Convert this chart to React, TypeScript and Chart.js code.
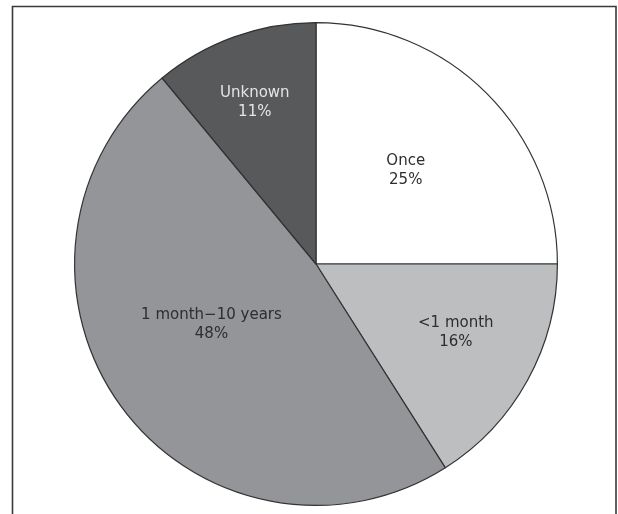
import React, { useEffect, useRef } from "react";
import { Chart, registerables } from "chart.js";

Chart.register(...registerables);

const categories = ["Once", "<1 month", "1 month\u221210 years", "Unknown"];
const percentValues = [25, 16, 48, 11];
const sliceColors = ["#ffffff", "#bcbec0", "#939598", "#58595b"];
const labelColors = ["#2e2e2e", "#2e2e2e", "#2e2e2e", "#e4e4e4"];
const labelRadiusFractions = [0.537, 0.645, 0.5, 0.714];
const labelAngleOffsetsDeg = [-1.2, -2.7, 6, -1];

const framePlugin = {
  id: "frame",
  beforeDraw(chart: any) {
    const ctx = chart.ctx;
    ctx.save();
    ctx.fillStyle = "#ffffff";
    ctx.fillRect(0, 0, chart.width, chart.height);
    ctx.strokeStyle = "#3a3a3a";
    ctx.lineWidth = 1.6;
    ctx.beginPath();
    ctx.moveTo(12.5, chart.height);
    ctx.lineTo(12.5, 6.5);
    ctx.lineTo(616, 6.5);
    ctx.lineTo(616, chart.height);
    ctx.stroke();
    ctx.restore();
  },
};

const labelPlugin = {
  id: "sliceLabels",
  afterDatasetsDraw(chart: any) {
    const ctx = chart.ctx;
    const meta = chart.getDatasetMeta(0);
    const data = chart.data.datasets[0].data;
    ctx.save();
    ctx.font = "15px 'DejaVu Sans', sans-serif";
    ctx.textAlign = "center";
    ctx.textBaseline = "middle";
    meta.data.forEach((arc: any, i: number) => {
      const p = arc.getProps(["x", "y", "startAngle", "endAngle", "outerRadius"], true);
      const mid = (p.startAngle + p.endAngle) / 2 + (labelAngleOffsetsDeg[i] * Math.PI) / 180;
      const r = p.outerRadius * labelRadiusFractions[i];
      const cx = p.x + Math.cos(mid) * r;
      const cy = p.y + Math.sin(mid) * r;
      ctx.fillStyle = labelColors[i];
      ctx.fillText(String(chart.data.labels[i]), cx, cy - 9.5);
      ctx.fillText(data[i] + "%", cx, cy + 9.5);
    });
    ctx.restore();
  },
};

export default function App() {
  const canvasRef = useRef<HTMLCanvasElement | null>(null);

  useEffect(() => {
    if (!canvasRef.current) return;
    const chart = new Chart(canvasRef.current, {
      type: "pie",
      data: {
        labels: categories,
        datasets: [
          {
            data: percentValues,
            backgroundColor: sliceColors,
            borderColor: "#333333",
            borderWidth: 1.2,
          },
        ],
      },
      options: {
        responsive: false,
        animation: false,
        layout: { padding: { top: 22, bottom: 8, left: 74, right: 60 } },
        plugins: {
          legend: { display: false },
          tooltip: { enabled: false },
        },
      },
      plugins: [framePlugin, labelPlugin],
    });
    return () => chart.destroy();
  }, []);

  return (
    <div style={{ position: "absolute", left: 0, top: 0, width: 618, height: 514 }}>
      <canvas ref={canvasRef} width={618} height={514} />
    </div>
  );
}
